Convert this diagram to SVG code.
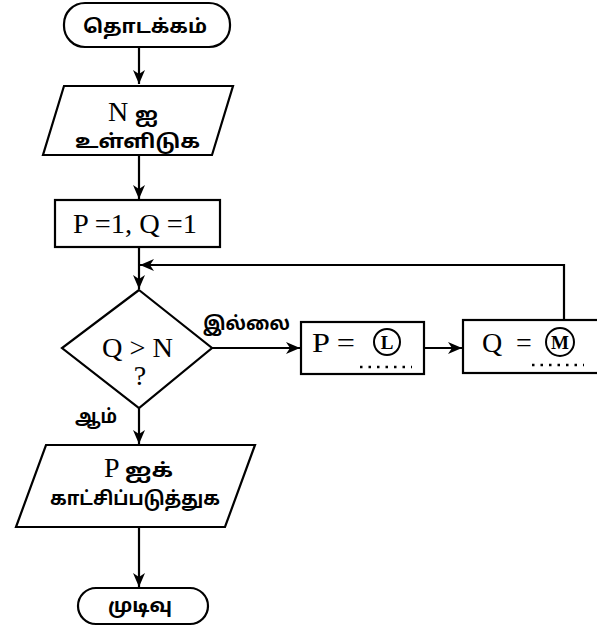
<svg xmlns="http://www.w3.org/2000/svg" width="597" height="642" viewBox="0 0 597 642">
<style>
.s{fill:#fff;stroke:#000;stroke-width:2.2}
.c{fill:none;stroke:#000;stroke-width:2.2}
.ta{font-family:"Noto Sans Tamil","Lohit Tamil","Noto Sans","DejaVu Sans",sans-serif;font-weight:bold;font-size:19px;fill:#000}
.se{font-family:"Liberation Serif",serif;font-size:28px;fill:#000}
.cl{font-family:"Liberation Serif",serif;font-size:19px;font-weight:bold;fill:#000}
.ring{fill:none;stroke:#000;stroke-width:2}
.dot{fill:none;stroke:#000;stroke-width:2.5;stroke-dasharray:2.5 6}
</style>
<defs>
<marker id="ah" markerWidth="14" markerHeight="12" refX="14" refY="6" orient="auto" markerUnits="userSpaceOnUse" viewBox="0 0 14 12">
<path d="M0,0 L14,6 L0,12 L4,6 Z" fill="#000"/>
</marker>
</defs>
<rect width="597" height="642" fill="#fff"/>
<g id="connectors">
<line class="c" x1="139" y1="47" x2="139" y2="84" marker-end="url(#ah)"/>
<line class="c" x1="139" y1="155" x2="139" y2="199" marker-end="url(#ah)"/>
<line class="c" x1="139" y1="247" x2="139" y2="289" marker-end="url(#ah)"/>
<polyline class="c" points="564,320 564,265 140,265" marker-end="url(#ah)"/>
<line class="c" x1="212" y1="348" x2="300" y2="348" marker-end="url(#ah)"/>
<line class="c" x1="424" y1="348" x2="462" y2="348" marker-end="url(#ah)"/>
<line class="c" x1="139" y1="408" x2="139" y2="444" marker-end="url(#ah)"/>
<line class="c" x1="139" y1="527" x2="139" y2="587" marker-end="url(#ah)"/>
<text class="ta" x="203" y="330" textLength="87" lengthAdjust="spacingAndGlyphs">இல்லை</text>
<text class="ta" x="75" y="423" textLength="42" lengthAdjust="spacingAndGlyphs">ஆம்</text>
</g>
<g id="start">
<rect class="s" x="64" y="3" width="166" height="44" rx="21"/>
<text class="ta" x="83" y="33" textLength="124" lengthAdjust="spacingAndGlyphs">தொடக்கம்</text>
</g>
<g id="input">
<polygon class="s" points="64,86 233,86 212,155 43,155"/>
<text class="se" x="108" y="121">N</text>
<text class="ta" x="135" y="121" textLength="23" lengthAdjust="spacingAndGlyphs">ஐ</text>
<text class="ta" x="75" y="148" textLength="125" lengthAdjust="spacingAndGlyphs">உள்ளிடுக</text>
</g>
<g id="init">
<rect class="s" x="55" y="200" width="165" height="47"/>
<text class="se" x="73" y="233" textLength="124" lengthAdjust="spacingAndGlyphs">P =1, Q =1</text>
</g>
<g id="decision">
<polygon class="s" points="139,290 212,348 139,408 62,348"/>
<text class="se" x="102" y="357" textLength="71" lengthAdjust="spacingAndGlyphs">Q &gt; N</text>
<text class="se" x="140" y="385" text-anchor="middle">?</text>
</g>
<g id="setP">
<rect class="s" x="301" y="322" width="123" height="52"/>
<text class="se" x="312" y="352" textLength="43" lengthAdjust="spacingAndGlyphs">P =</text>
<circle class="ring" cx="387" cy="342" r="13"/>
<text class="cl" x="387" y="349" text-anchor="middle">L</text>
<line class="dot" x1="360" y1="367" x2="412" y2="367"/>
</g>
<g id="setQ">
<rect class="s" x="463" y="320" width="140" height="53"/>
<text class="se" x="482" y="352">Q</text>
<text class="se" x="516" y="352">=</text>
<circle class="ring" cx="560" cy="342" r="14"/>
<text class="cl" x="560" y="349" text-anchor="middle">M</text>
<line class="dot" x1="532" y1="365" x2="584" y2="365"/>
</g>
<g id="output">
<polygon class="s" points="46,445 255,445 225,527 16,527"/>
<text class="se" x="104" y="477">P</text>
<text class="ta" x="125" y="477" textLength="48" lengthAdjust="spacingAndGlyphs">ஐக்</text>
<text class="ta" x="50" y="505" textLength="170" lengthAdjust="spacingAndGlyphs">காட்சிப்படுத்துக</text>
</g>
<g id="end">
<rect class="s" x="78" y="588" width="130" height="36" rx="18"/>
<text class="ta" x="108" y="612" textLength="64" lengthAdjust="spacingAndGlyphs">முடிவு</text>
</g>
</svg>
